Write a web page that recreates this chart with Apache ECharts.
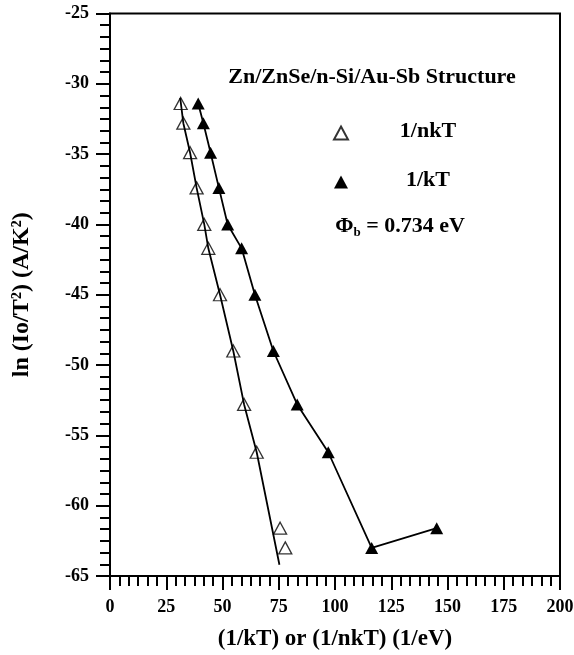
<!DOCTYPE html>
<html>
<head>
<meta charset="utf-8">
<script src="https://cdn.jsdelivr.net/npm/echarts@6/dist/echarts.min.js"></script>
<style>
  html, body { margin: 0; padding: 0; background: #fff; }
  #chart { width: 574px; height: 655px; }
</style>
</head>
<body>
<div id="chart"></div>
<script>
// open triangles (1/nkT)
var nkX = [31.4, 32.6, 35.6, 38.5, 41.9, 43.7, 48.9, 54.8, 59.6, 65.2, 75.6, 77.9]
var nkY = [-31.4, -32.8, -34.9, -37.4, -40.0, -41.7, -45.0, -49.0, -52.8, -56.2, -61.6, -63.0]
// line drawn through the open triangles
var nkLineX = [31.2, 32.6, 35.6, 38.5, 41.9, 43.7, 48.9, 54.8, 59.6, 65.2, 75.3]
var nkLineY = [-31.0, -32.8, -34.9, -37.4, -40.0, -41.7, -45.0, -49.0, -52.8, -56.2, -64.2]
// filled triangles (1/kT)
var kX = [39.2, 41.5, 44.7, 48.4, 52.3, 58.5, 64.4, 72.6, 83.2, 97.0, 116.3, 145.2]
var kY = [-31.4, -32.8, -34.9, -37.4, -40.0, -41.7, -45.0, -49.0, -52.8, -56.2, -63.0, -61.6]

function pairs(xs, ys) {
  return xs.map(function (x, i) { return [x, ys[i]] })
}

var font = 'Liberation Serif'
var chart = echarts.init(document.getElementById('chart'))
chart.setOption({
  backgroundColor: '#fff',
  animation: false,
  textStyle: { fontFamily: font, fontWeight: 'bold', color: '#000' },
  grid: {
    left: 110, right: 14, top: 13.5, bottom: 79,
    show: true, borderColor: '#000', borderWidth: 2,
    containLabel: false, outerBoundsMode: 'none'
  },
  xAxis: {
    type: 'value', min: 0, max: 200, interval: 25,
    name: '(1/kT) or (1/nkT) (1/eV)',
    nameLocation: 'middle', nameGap: 52,
    nameTextStyle: { fontFamily: font, fontWeight: 'bold', fontSize: 23, color: '#000' },
    axisLine: { lineStyle: { color: '#000', width: 2 } },
    axisTick: { length: 14, lineStyle: { color: '#000', width: 2 } },
    minorTick: { show: true, splitNumber: 6, length: 10, lineStyle: { color: '#000', width: 2 } },
    splitLine: { show: false },
    axisLabel: { margin: 22, fontFamily: font, fontWeight: 'bold', fontSize: 18, color: '#000' }
  },
  yAxis: {
    type: 'value', min: -65, max: -25, interval: 5,
    name: 'ln (Io/T²) (A/K²)',
    nameLocation: 'middle', nameGap: 76, nameRotate: 90,
    nameTextStyle: { fontFamily: font, fontWeight: 'bold', fontSize: 24, color: '#000' },
    axisLine: { lineStyle: { color: '#000', width: 2 } },
    axisTick: { length: 14, lineStyle: { color: '#000', width: 2 } },
    minorTick: { show: true, splitNumber: 6, length: 10, lineStyle: { color: '#000', width: 2 } },
    splitLine: { show: false },
    axisLabel: { margin: 21, fontFamily: font, fontWeight: 'bold', fontSize: 18, color: '#000' }
  },
  legend: {
    orient: 'vertical', left: 328, top: 115,
    itemWidth: 14, itemHeight: 13, itemGap: 27,
    data: [{ name: '1/nkT', icon: 'triangle' }, { name: '1/kT', icon: 'triangle' }],
    formatter: '{t|{name}}',
    textStyle: {
      fontFamily: font, fontWeight: 'bold', fontSize: 22, color: '#000',
      rich: { t: { width: 150, align: 'center', fontFamily: font, fontWeight: 'bold', fontSize: 22, padding: [0, 0, 4, 0] } }
    }
  },
  graphic: [
    {
      type: 'text', x: 372, y: 77,
      style: {
        text: 'Zn/ZnSe/n-Si/Au-Sb Structure',
        font: 'bold 22px "Liberation Serif"', fill: '#000',
        textAlign: 'center', textVerticalAlign: 'middle'
      }
    },
    {
      type: 'text', x: 400, y: 226,
      style: {
        text: '{a|Φ}{s|b}{a| = 0.734 eV}',
        textAlign: 'center', textVerticalAlign: 'middle', fill: '#000',
        rich: {
          a: { fontFamily: font, fontWeight: 'bold', fontSize: 22, lineHeight: 26 },
          s: { fontFamily: font, fontWeight: 'bold', fontSize: 13, lineHeight: 14, verticalAlign: 'bottom' }
        }
      }
    }
  ],
  series: [
    {
      type: 'line', name: 'nkfit', data: pairs(nkLineX, nkLineY),
      showSymbol: false, symbol: 'none', silent: true,
      lineStyle: { color: '#000', width: 1.8 }, z: 2
    },
    {
      type: 'scatter', name: '1/nkT', data: pairs(nkX, nkY),
      symbol: 'triangle', symbolSize: [13, 12],
      itemStyle: { color: 'rgba(255,255,255,0)', borderColor: '#000', borderWidth: 1.3 }, z: 3
    },
    {
      type: 'line', name: '1/kT', data: pairs(kX, kY),
      symbol: 'triangle', symbolSize: [13, 12], showAllSymbol: true,
      itemStyle: { color: '#000' },
      lineStyle: { color: '#000', width: 1.8 }, z: 3
    }
  ]
})
</script>
</body>
</html>
